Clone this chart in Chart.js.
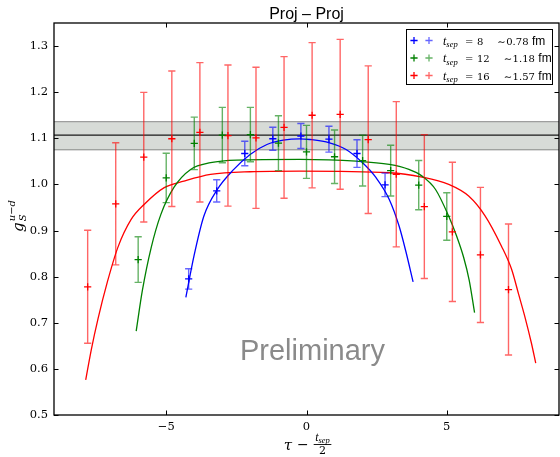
<!DOCTYPE html>
<html><head><meta charset="utf-8">
<script src="https://cdn.jsdelivr.net/npm/chart.js@4.4.1/dist/chart.umd.min.js"></script>
<style>html,body{margin:0;padding:0;background:#fff;}canvas{display:block;}</style>
</head><body>
<canvas id="c" width="560" height="457"></canvas>
<script>
// ---------- texts ----------
const titleText = 'Proj \u2013 Proj';
const watermarkText = 'Preliminary';
const legendNumbers = ['8', '12', '16'];
const legendLengths = ['0.78', '1.18', '1.57'];

// ---------- axes ----------
const xRange = [-9, 9];
const yRange = [0.5, 1.35];
const xTickValues = [-5, 0, 5];
const yTickValues = [0.5, 0.6, 0.7, 0.8, 0.9, 1.0, 1.1, 1.2, 1.3];

// ---------- band (result) ----------
const bandLow = 1.075, bandHigh = 1.136, bandMid = 1.107;

// ---------- t_sep = 8 ----------
const x8 = [-4.2, -3.2, -2.2, -1.2, -0.2, 0.8, 1.8, 2.8];
const y8 = [0.795, 0.986, 1.067, 1.099, 1.105, 1.098, 1.067, 0.999];
const e8 = [0.022, 0.024, 0.0265, 0.025, 0.027, 0.028, 0.030, 0.0255];
const fitX8 = [-4.30, -4.01, -3.66, -3.18, -2.60, -2.01, -1.41, -0.83, -0.24, 0.12, 0.82, 1.41, 2.00, 2.48, 2.95, 3.30, 3.54, 3.80];
const fitY8 = [0.755, 0.845, 0.931, 0.989, 1.032, 1.065, 1.0866, 1.0959, 1.0989, 1.0974, 1.0903, 1.0758, 1.047, 1.0145, 0.9675, 0.9097, 0.855, 0.7885];

// ---------- t_sep = 12 ----------
const x12 = [-6, -5, -4, -3, -2, -1, 0, 1, 2, 3, 4, 5];
const y12 = [0.837, 1.014, 1.089, 1.107, 1.108, 1.0895, 1.0705, 1.060, 1.0515, 1.030, 0.9985, 0.9305];
const e12 = [0.0495, 0.0535, 0.057, 0.060, 0.059, 0.0595, 0.0575, 0.058, 0.055, 0.055, 0.0535, 0.0515];
const fitX12 = [-6.07, -5.85, -5.54, -5.19, -4.72, -4.13, -3.42, -2.48, -0.24, 1.77, 2.95, 3.65, 4.12, 4.60, 5.07, 5.35, 5.60, 5.80, 5.99];
const fitY12 = [0.682, 0.770, 0.862, 0.935, 0.994, 1.0325, 1.047, 1.0526, 1.0541, 1.0504, 1.0433, 1.0325, 1.018, 0.989, 0.931, 0.888, 0.842, 0.792, 0.722];

// ---------- t_sep = 16 ----------
const x16 = [-7.8, -6.8, -5.8, -4.8, -3.8, -2.8, -1.8, -0.8, 0.2, 1.2, 2.2, 3.2, 4.2, 5.2, 6.2, 7.2];
const y16 = [0.778, 0.958, 1.059, 1.099, 1.113, 1.106, 1.101, 1.1235, 1.150, 1.152, 1.097, 1.022, 0.952, 0.897, 0.847, 0.772];
const e16 = [0.1225, 0.1325, 0.1405, 0.147, 0.151, 0.153, 0.153, 0.1535, 0.1575, 0.1625, 0.160, 0.1575, 0.156, 0.151, 0.1465, 0.142];
const fitX16 = [-7.87, -7.67, -7.43, -7.10, -6.72, -6.25, -5.78, -5.07, -4.37, -3.42, -2.01, -0.24, 2.95, 4.12, 5.07, 5.78, 6.37, 6.95, 7.31, 7.56, 7.78, 8.02, 8.17];
const fitY16 = [0.576, 0.642, 0.709, 0.788, 0.864, 0.924, 0.957, 0.993, 1.007, 1.0216, 1.0275, 1.0288, 1.0253, 1.0158, 1.0, 0.9747, 0.9314, 0.866, 0.816, 0.762, 0.714, 0.655, 0.6125];

// ---------- styles ----------
const C8 = '#0000ff', C12 = '#008000', C16 = '#ff0000';
const B8 = 'rgba(0,0,255,0.6)', B12 = 'rgba(0,128,0,0.6)', B16 = 'rgba(255,0,0,0.6)';
const SERIF = '"DejaVu Serif", serif';
const TSERIF = '"Liberation Serif", serif';
const SANS = '"Liberation Sans", Arial, sans-serif';

const toXY = (xs, ys) => xs.map((x, i) => ({x: x, y: ys[i]}));
const flat = (v) => [{x: xRange[0], y: v}, {x: xRange[1], y: v}];

function pointSet(label, xs, ys, errs, color, barColor) {
  return {label, data: toXY(xs, ys), errors: errs, barColor,
    showLine: false, pointStyle: 'cross', pointRadius: 3.6, pointBorderWidth: 1.3,
    pointBorderColor: color, borderColor: color, backgroundColor: color, order: 1};
}
function fitSet(xs, ys, color) {
  return {data: toXY(xs, ys), borderColor: color, borderWidth: 1.3, pointRadius: 0,
    cubicInterpolationMode: 'monotone', fill: false, order: 5};
}

const datasets = [
  {data: flat(bandHigh), fill: {value: bandLow}, backgroundColor: 'rgba(95,110,95,0.25)',
   borderColor: '#8a8a8a', borderWidth: 1, pointRadius: 0, order: 10},
  {data: flat(bandLow), fill: false, borderColor: '#8a8a8a', borderWidth: 1, pointRadius: 0, order: 10},
  {data: flat(bandMid), fill: false, borderColor: '#1a1a1a', borderWidth: 1.3, pointRadius: 0, order: 9},
  fitSet(fitX8, fitY8, C8),
  fitSet(fitX12, fitY12, C12),
  fitSet(fitX16, fitY16, C16),
  pointSet('tsep8', x8, y8, e8, C8, B8),
  pointSet('tsep12', x12, y12, e12, C12, B12),
  pointSet('tsep16', x16, y16, e16, C16, B16)
];

// ---------- plugins ----------
const errorBarPlugin = {
  id: 'errorBars',
  beforeDatasetDraw(chart, args) {
    const ds = chart.data.datasets[args.index];
    if (!ds.errors) return;
    const {ctx, scales: {x, y}} = chart;
    ctx.save();
    ctx.strokeStyle = ds.barColor;
    ctx.lineWidth = 1.4;
    ctx.beginPath();
    ds.data.forEach((p, i) => {
      const px = x.getPixelForValue(p.x);
      const yt = y.getPixelForValue(p.y + ds.errors[i]);
      const yb = y.getPixelForValue(p.y - ds.errors[i]);
      ctx.moveTo(px, yt); ctx.lineTo(px, yb);
      ctx.moveTo(px - 3.6, yt); ctx.lineTo(px + 3.6, yt);
      ctx.moveTo(px - 3.6, yb); ctx.lineTo(px + 3.6, yb);
    });
    ctx.stroke();
    ctx.restore();
  }
};

function runs(ctx, list, x, y, measureOnly) {
  for (const r of list) {
    ctx.font = r.font;
    x += (r.dx || 0);
    if (!measureOnly) ctx.fillText(r.t, x, y + (r.dy || 0));
    x += ctx.measureText(r.t).width;
  }
  return x;
}

const decorPlugin = {
  id: 'decor',
  afterDraw(chart) {
    const {ctx, chartArea: a, scales: {x, y}} = chart;
    const cx = (a.left + a.right) / 2;
    ctx.save();
    // frame
    ctx.strokeStyle = '#000';
    ctx.lineWidth = 1.3;
    ctx.strokeRect(a.left, a.top, a.right - a.left, a.bottom - a.top);
    // inward ticks
    ctx.lineWidth = 1;
    const L = 4.5;
    ctx.beginPath();
    x.ticks.forEach(t => {
      const px = Math.round(x.getPixelForValue(t.value)) + 0.5;
      ctx.moveTo(px, a.bottom); ctx.lineTo(px, a.bottom - L);
      ctx.moveTo(px, a.top); ctx.lineTo(px, a.top + L);
    });
    y.ticks.forEach(t => {
      const py = Math.round(y.getPixelForValue(t.value)) + 0.5;
      ctx.moveTo(a.left, py); ctx.lineTo(a.left + L, py);
      ctx.moveTo(a.right, py); ctx.lineTo(a.right - L, py);
    });
    ctx.stroke();

    // title
    ctx.fillStyle = '#000';
    ctx.textAlign = 'center';
    ctx.textBaseline = 'alphabetic';
    ctx.font = '16px ' + SANS;
    ctx.fillText(titleText, cx, 18.5);

    // watermark
    ctx.fillStyle = '#8a8a8a';
    ctx.font = '29px ' + SANS;
    ctx.fillText(watermarkText, cx + 6, 360);

    // x label: tau - t_sep/2
    ctx.fillStyle = '#000';
    ctx.textAlign = 'left';
    const fTau = 'italic 15px ' + SERIF, fMinus = '14px ' + SERIF;
    const fNum = 'italic 12px ' + TSERIF, fSub = 'italic 8.5px ' + TSERIF, fDen = '11px ' + SERIF;
    ctx.font = fTau; const wTau = ctx.measureText('\u03c4').width;
    ctx.font = fMinus; const wMin = ctx.measureText('\u2212').width;
    const wNum = runs(ctx, [{t: 't', font: fNum}, {t: 'sep', font: fSub}], 0, 0, true);
    ctx.font = fDen; const wDen = ctx.measureText('2').width;
    const wFrac = Math.max(wNum, wDen) + 3;
    const gap = 5;
    const total = wTau + gap + wMin + gap + wFrac;
    let lx = cx + 1 - total / 2;
    ctx.font = fTau; ctx.fillText('\u03c4', lx, 450);
    lx += wTau + gap;
    ctx.font = fMinus; ctx.fillText('\u2212', lx, 449);
    lx += wMin + gap;
    runs(ctx, [{t: 't', font: fNum}, {t: 'sep', font: fSub, dy: 2}], lx + (wFrac - wNum) / 2, 440.5);
    ctx.fillRect(lx, 444, wFrac, 0.9);
    ctx.font = fDen; ctx.fillText('2', lx + (wFrac - wDen) / 2, 453.5);

    // y label: g_S^{u-d}
    ctx.save();
    ctx.translate(23, 216);
    ctx.rotate(-Math.PI / 2);
    const fG = 'italic 15px ' + SERIF, fS = 'italic 10px ' + SERIF;
    ctx.font = fG; const wG = ctx.measureText('g').width;
    ctx.font = fS; const wSup = ctx.measureText('u\u2212d').width;
    const wS = ctx.measureText('S').width;
    const tot = wG + 1 + Math.max(wSup, wS);
    let gx = -tot / 2;
    ctx.font = fG; ctx.fillText('g', gx, 0);
    gx += wG + 1;
    ctx.font = fS; ctx.fillText('S', gx, 3);
    ctx.fillText('u\u2212d', gx, -8);
    ctx.restore();

    // legend
    const lb = {l: 406, t: 29, r: 553, b: 85};
    ctx.fillStyle = '#fff';
    ctx.fillRect(lb.l, lb.t, lb.r - lb.l, lb.b - lb.t);
    ctx.strokeStyle = '#000';
    ctx.lineWidth = 1;
    ctx.strokeRect(lb.l + 0.5, lb.t + 0.5, lb.r - lb.l - 1, lb.b - lb.t - 1);
    const rowsY = [40.5, 58, 75.5];
    const cols = [C8, C12, C16];
    const bars = [B8, B12, B16];
    rowsY.forEach((ry, i) => {
      [[414, cols[i]], [429, bars[i]]].forEach(([mx, col]) => {
        ctx.strokeStyle = col; ctx.lineWidth = 1.3;
        ctx.beginPath();
        ctx.moveTo(mx - 3.6, ry); ctx.lineTo(mx + 3.6, ry);
        ctx.moveTo(mx, ry - 3.6); ctx.lineTo(mx, ry + 3.6);
        ctx.stroke();
      });
      ctx.fillStyle = '#000';
      const base = ry + 4;
      runs(ctx, [
        {t: 't', font: 'italic 12px ' + TSERIF},
        {t: 'sep', font: 'italic 8.5px ' + TSERIF, dy: 2.5}
      ], 443, base);
      runs(ctx, [{t: '=', font: '10px ' + SERIF}], 465, base);
      let tx = runs(ctx, [{t: legendNumbers[i], font: '10px ' + SERIF}], 477, base);
      runs(ctx, [
        {t: '\u223c', font: '10px ' + SERIF, dx: 14},
        {t: legendLengths[i], font: '10px ' + SERIF, dx: 0.5},
        {t: 'fm', font: '12px ' + SANS, dx: 3.5}
      ], tx, base);
    });
    ctx.restore();
  }
};

new Chart(document.getElementById('c'), {
  type: 'line',
  data: {datasets},
  options: {
    responsive: false,
    animation: false,
    devicePixelRatio: 1,
    events: [],
    layout: {autoPadding: false, padding: {left: 0, right: 1, top: 23, bottom: 0}},
    plugins: {legend: {display: false}, title: {display: false}, tooltip: {enabled: false}},
    scales: {
      x: {
        type: 'linear', min: xRange[0], max: xRange[1],
        afterBuildTicks: s => { s.ticks = xTickValues.map(v => ({value: v})); },
        afterFit: s => { s.height = 42; s.paddingLeft = 0; s.paddingRight = 0; },
        grid: {display: false, drawTicks: false},
        border: {display: false},
        ticks: {color: '#000', padding: 5, font: {family: '"DejaVu Serif", serif', size: 11.5},
          callback: v => (v < 0 ? '\u2212' + (-v) : String(v))}
      },
      y: {
        type: 'linear', min: yRange[0], max: yRange[1],
        afterBuildTicks: s => { s.ticks = yTickValues.map(v => ({value: v})); },
        afterFit: s => { s.width = 54; s.paddingTop = 0; s.paddingBottom = 0; },
        grid: {display: false, drawTicks: false},
        border: {display: false},
        ticks: {color: '#000', padding: 6, font: {family: '"DejaVu Serif", serif', size: 11.5},
          callback: v => Number(v).toFixed(1)}
      }
    }
  },
  plugins: [errorBarPlugin, decorPlugin]
});
</script>
</body></html>
